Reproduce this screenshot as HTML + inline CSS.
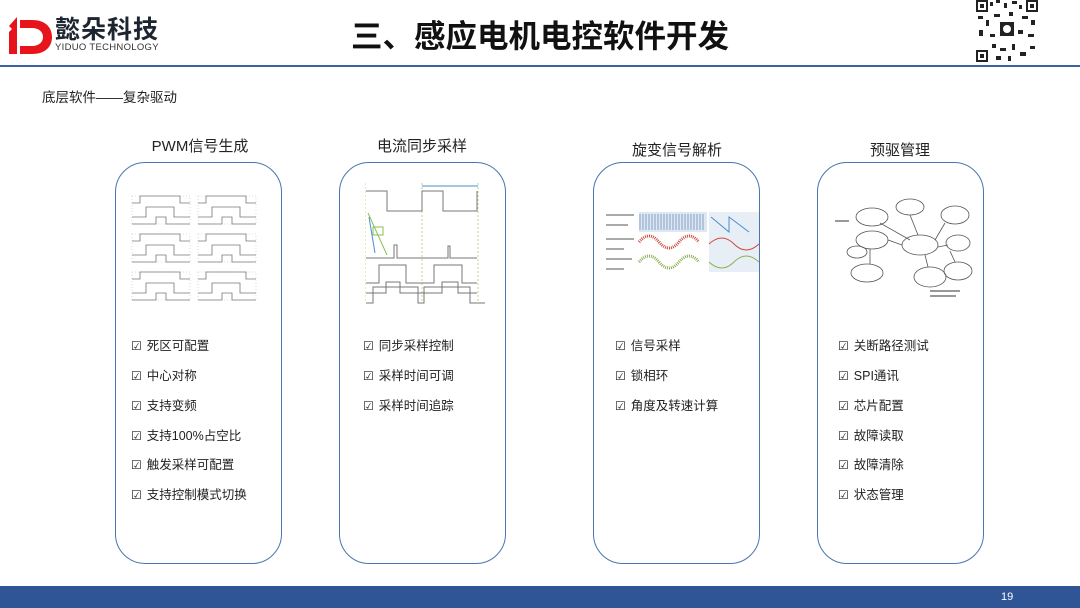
<!DOCTYPE html>
<html><head><meta charset="utf-8"><style>
*{margin:0;padding:0;box-sizing:border-box}
body{width:1080px;height:608px;background:#fff;position:relative;overflow:hidden;font-family:"Liberation Sans","Noto Sans CJK SC",sans-serif;color:#222}
.a{position:absolute;white-space:nowrap}
.card{position:absolute;top:162px;height:402px;border:1.5px solid #4a76ad;border-radius:30px}
.ttl{position:absolute;font-size:15px;color:#222;text-align:center;width:200px}
.li{position:absolute;font-size:12.5px;color:#222}
.li span{font-size:12px;margin-right:5px}
</style></head><body>
<!-- logo -->
<svg class="a" style="left:8px;top:14px" width="46" height="42" viewBox="0 0 46 42">
<path d="M1 12 L9 3 L9 40 L1 40 L1 18 L4 15 Z" fill="#e8141c"/>
<path d="M12 6 L24 6 C38 6 44 14 44 23 C44 32 38 40 24 40 L12 40 L12 32 L24 32 C31 32 35 28 35 23 C35 18 31 14 24 14 L12 14 Z" fill="#e8141c"/>
</svg>
<div class="a" style="left:55px;top:14px;font-size:25px;font-weight:bold;color:#1d2630;letter-spacing:1px;font-family:'Noto Sans CJK SC',sans-serif;line-height:28px">懿朵科技</div>
<div class="a" style="left:55px;top:42px;font-size:9.5px;color:#333;letter-spacing:0.3px">YIDUO TECHNOLOGY</div>
<div class="a" style="left:351px;top:13px;font-size:31.5px;font-weight:bold;color:#111;font-family:'Noto Sans CJK SC',sans-serif;line-height:42px">三、感应电机电控软件开发</div>
<!-- QR -->
<svg class="a" style="left:976px;top:0" width="62" height="62" viewBox="0 0 62 62">
<rect width="62" height="62" fill="#fff"/>
<g fill="#222">
<rect x="0" y="0" width="12" height="12"/><rect x="50" y="0" width="12" height="12"/><rect x="0" y="50" width="12" height="12"/>
<rect x="14" y="2" width="3" height="4"/><rect x="20" y="0" width="4" height="3"/><rect x="28" y="3" width="3" height="5"/><rect x="36" y="1" width="5" height="3"/><rect x="43" y="5" width="3" height="4"/>
<rect x="2" y="16" width="5" height="3"/><rect x="10" y="20" width="3" height="6"/><rect x="18" y="14" width="6" height="3"/><rect x="33" y="12" width="4" height="4"/><rect x="46" y="16" width="6" height="3"/><rect x="55" y="20" width="4" height="5"/>
<rect x="3" y="30" width="4" height="6"/><rect x="14" y="34" width="5" height="3"/><rect x="42" y="30" width="5" height="4"/><rect x="52" y="34" width="6" height="3"/>
<rect x="16" y="44" width="4" height="4"/><rect x="24" y="48" width="6" height="3"/><rect x="36" y="44" width="3" height="6"/><rect x="44" y="52" width="6" height="4"/><rect x="54" y="46" width="5" height="3"/><rect x="20" y="56" width="5" height="4"/><rect x="32" y="56" width="3" height="5"/>
<rect x="24" y="22" width="14" height="14"/>
</g>
<g fill="#fff"><rect x="2" y="2" width="8" height="8"/><rect x="52" y="2" width="8" height="8"/><rect x="2" y="52" width="8" height="8"/><circle cx="31" cy="29" r="4"/></g>
<g fill="#222"><rect x="4" y="4" width="4" height="4"/><rect x="54" y="4" width="4" height="4"/><rect x="4" y="54" width="4" height="4"/></g>
</svg>
<div class="a" style="left:0;top:65px;width:1080px;height:2px;background:#3b63a3"></div>
<div class="a" style="left:42px;top:86px;font-size:13.5px">底层软件——复杂驱动</div>

<div class="ttl" style="left:100px;top:135px">PWM信号生成</div>
<div class="ttl" style="left:322px;top:135px">电流同步采样</div>
<div class="ttl" style="left:577px;top:139px">旋变信号解析</div>
<div class="ttl" style="left:800px;top:139px">预驱管理</div>

<div class="card" style="left:115px;width:167px"></div>
<div class="card" style="left:339px;width:167px"></div>
<div class="card" style="left:593px;width:167px"></div>
<div class="card" style="left:817px;width:167px"></div>

<!-- PWM image -->
<svg class="a" style="left:130px;top:193px" width="130" height="115" viewBox="0 0 130 115" fill="none" stroke="#777" stroke-width="0.8">
<g id="p"><rect x="2" y="3" width="58" height="28" stroke="#e6c8c8" stroke-dasharray="1 2"/>
<path d="M2 10 H10 V3 H50 V10 H60"/><path d="M2 24 H16 V14 H44 V24 H60"/><path d="M2 31 H26 V24 H36 V31 H60"/></g>
<use href="#p" x="66"/><use href="#p" y="38"/><use href="#p" x="66" y="38"/><use href="#p" y="76"/><use href="#p" x="66" y="76"/>
</svg>
<!-- current sampling -->
<svg class="a" style="left:365px;top:183px" width="120" height="125" viewBox="0 0 120 125" fill="none" stroke="#777" stroke-width="1">
<path d="M0 0V120M57 0V120M113 0V120" stroke="#b8d890" stroke-dasharray="2 2"/>
<path d="M57 3H113" stroke="#4a8fd0"/>
<path d="M1 8H22V28H57V8H78V28H112V8"/>
<path d="M1 75H29V62H32V75H83V63H85V75H112"/>
<path d="M1 100H14V82H41V100H69V82H97V100H112"/>
<path d="M1 108H21V97H35V108H77V97H93V108H112" transform="translate(0,2)"/>
<path d="M1 122H8V106H53V122H59V106H105V122H120" transform="translate(0,-2)"/>
<path d="M3 30L22 72" stroke="#8ac050"/><path d="M4 34L10 70" stroke="#4a8fd0"/>
<rect x="8" y="44" width="10" height="8" stroke="#8ac050"/>
</svg>
<!-- resolver -->
<svg class="a" style="left:604px;top:212px" width="160" height="62" viewBox="0 0 160 62">
<rect x="35" y="0" width="68" height="20" fill="#dde8f3"/>
<path d="M36 2 V18 M39 2 V18 M42 2V18 M45 2V18 M48 2V18 M51 2V18 M54 2V18 M57 2V18 M60 2V18 M63 2V18 M66 2V18 M69 2V18 M72 2V18 M75 2V18 M78 2V18 M81 2V18 M84 2V18 M87 2V18 M90 2V18 M93 2V18 M96 2V18 M99 2V18" stroke="#6f8fb8" stroke-width="0.8"/>
<path d="M35 30 Q45 18 55 30 T75 30 T95 30" stroke="#d04a3a" fill="none" stroke-width="3" stroke-dasharray="1 1"/>
<path d="M35 50 Q45 38 55 50 T75 50 T95 50" stroke="#8ab050" fill="none" stroke-width="3" stroke-dasharray="1 1"/>
<rect x="105" y="0" width="50" height="60" fill="#e8eef6"/>
<path d="M107 5 L125 20 L125 5 L145 20" stroke="#4a8fd0" fill="none"/>
<path d="M105 32 Q118 20 130 32 T155 32" stroke="#d04a3a" fill="none"/>
<path d="M105 50 Q118 62 130 50 T155 50" stroke="#8ab050" fill="none"/>
<g fill="#aaa"><rect x="2" y="2" width="28" height="2"/><rect x="2" y="12" width="22" height="2"/><rect x="2" y="26" width="28" height="2"/><rect x="2" y="36" width="18" height="2"/><rect x="2" y="46" width="26" height="2"/><rect x="2" y="56" width="18" height="2"/></g>
</svg>
<!-- predriver -->
<svg class="a" style="left:830px;top:195px" width="150" height="110" viewBox="0 0 150 110" fill="none" stroke="#555" stroke-width="0.8">
<ellipse cx="42" cy="22" rx="16" ry="9"/><ellipse cx="80" cy="12" rx="14" ry="8"/><ellipse cx="125" cy="20" rx="14" ry="9"/>
<ellipse cx="42" cy="45" rx="16" ry="9"/><ellipse cx="90" cy="50" rx="18" ry="10"/><ellipse cx="128" cy="48" rx="12" ry="8"/>
<ellipse cx="27" cy="57" rx="10" ry="6"/><ellipse cx="37" cy="78" rx="16" ry="9"/><ellipse cx="100" cy="82" rx="16" ry="10"/><ellipse cx="128" cy="76" rx="14" ry="9"/>
<path d="M50 28 L80 45 M80 20 L88 40 M115 28 L105 45 M58 45 L72 50 M40 54 L40 69 M95 60 L98 72 M108 52 L118 50 M120 56 L125 67"/>
<g fill="#999" stroke="none"><rect x="100" y="95" width="30" height="2"/><rect x="100" y="100" width="26" height="2"/><rect x="5" y="25" width="14" height="2"/></g>
</svg>

<div class="li" style="left:131px;top:335px"><span>☑</span>死区可配置</div>
<div class="li" style="left:131px;top:365px"><span>☑</span>中心对称</div>
<div class="li" style="left:131px;top:395px"><span>☑</span>支持变频</div>
<div class="li" style="left:131px;top:425px"><span>☑</span>支持100%占空比</div>
<div class="li" style="left:131px;top:454px"><span>☑</span>触发采样可配置</div>
<div class="li" style="left:131px;top:484px"><span>☑</span>支持控制模式切换</div>

<div class="li" style="left:363px;top:335px"><span>☑</span>同步采样控制</div>
<div class="li" style="left:363px;top:365px"><span>☑</span>采样时间可调</div>
<div class="li" style="left:363px;top:395px"><span>☑</span>采样时间追踪</div>

<div class="li" style="left:615px;top:335px"><span>☑</span>信号采样</div>
<div class="li" style="left:615px;top:365px"><span>☑</span>锁相环</div>
<div class="li" style="left:615px;top:395px"><span>☑</span>角度及转速计算</div>

<div class="li" style="left:838px;top:335px"><span>☑</span>关断路径测试</div>
<div class="li" style="left:838px;top:365px"><span>☑</span>SPI通讯</div>
<div class="li" style="left:838px;top:395px"><span>☑</span>芯片配置</div>
<div class="li" style="left:838px;top:425px"><span>☑</span>故障读取</div>
<div class="li" style="left:838px;top:454px"><span>☑</span>故障清除</div>
<div class="li" style="left:838px;top:484px"><span>☑</span>状态管理</div>

<div class="a" style="left:0;top:586px;width:1080px;height:22px;background:#2f5597"></div>
<div class="a" style="left:1001px;top:591px;font-size:11px;color:#fff">19</div>
</body></html>
